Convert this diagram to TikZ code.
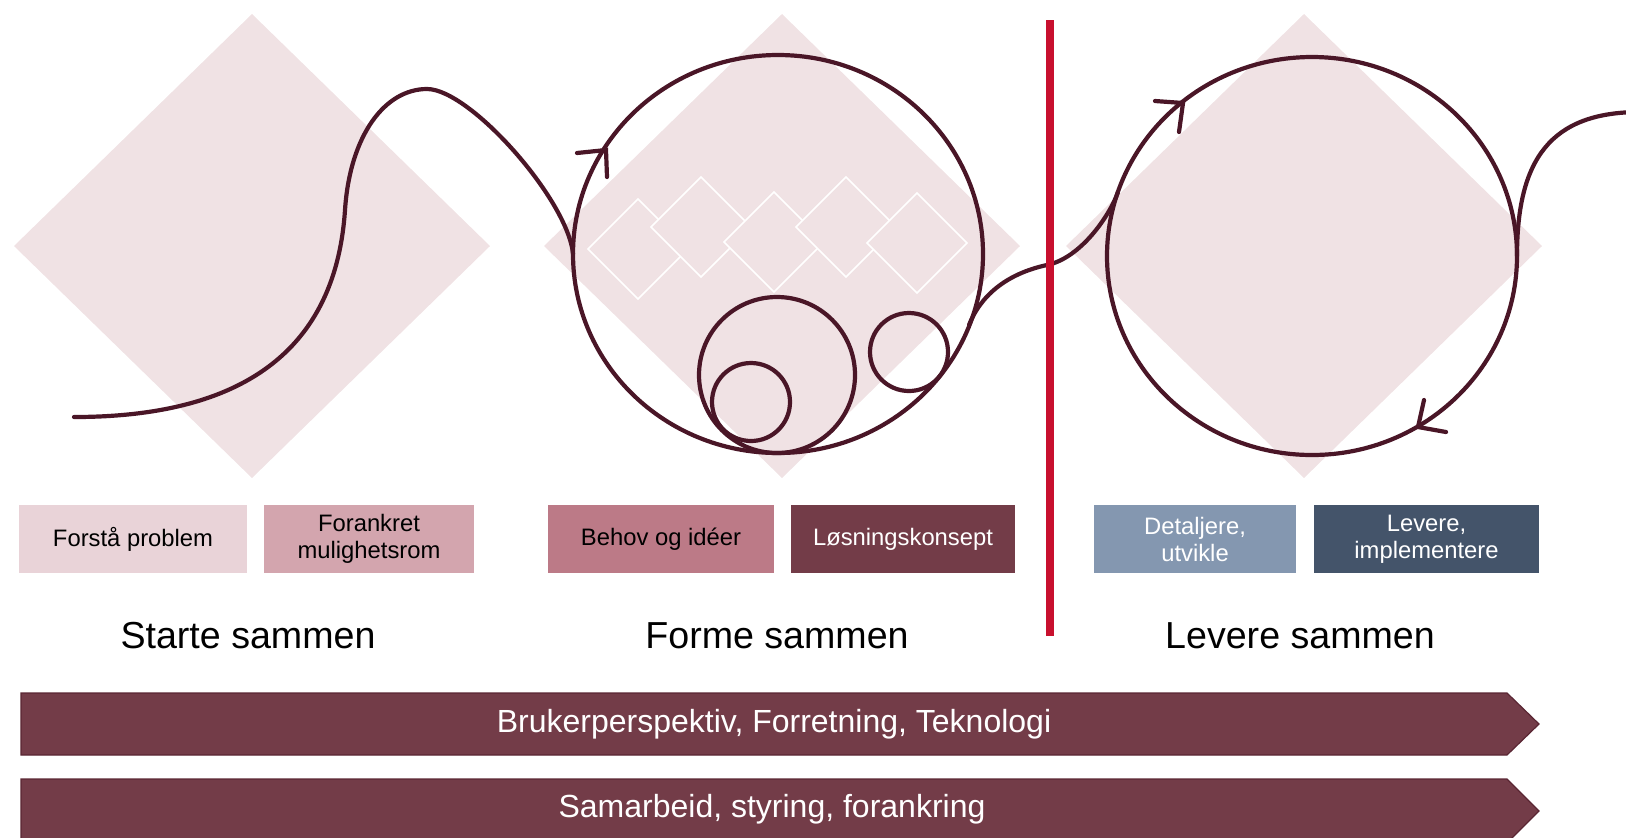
\documentclass[tikz,border=0pt]{standalone}
\usepackage{fontspec}
\setmainfont{Liberation Sans}
\definecolor{dpink}{HTML}{F0E2E4}
\definecolor{curvecol}{HTML}{4A1627}
\definecolor{redl}{HTML}{C8102E}
\definecolor{bxa}{HTML}{E9D3D8}
\definecolor{bxb}{HTML}{D3A5AE}
\definecolor{bxc}{HTML}{BC7A87}
\definecolor{bxd}{HTML}{733C48}
\definecolor{bxe}{HTML}{8497B0}
\definecolor{bxf}{HTML}{44546A}
\definecolor{arrcol}{HTML}{733C48}
\definecolor{arrline}{HTML}{5A2633}
\tikzset{
  bigdiam/.style={fill=dpink, draw=none},
  smalldiam/.style={fill=dpink, draw=white, line width=0.8pt},
  flow/.style={draw=curvecol, line width=2.1pt, line cap=round, line join=round},
  barb/.style={draw=curvecol, line width=2.1pt, line cap=round, line join=miter},
  stagebox/.style={minimum height=34pt, inner sep=0pt, align=center,
    font=\fontsize{11.9pt}{13.5pt}\selectfont},
  heading/.style={font=\fontsize{18.8pt}{22pt}\selectfont, anchor=base},
  band/.style={fill=arrcol, draw=arrline, line width=0.6pt},
  bandtext/.style={text=white, font=\fontsize{16pt}{19pt}\selectfont},
}
\begin{document}
\begin{tikzpicture}[x=0.5pt,y=-0.5pt]
\useasboundingbox (0,0) rectangle (1626,837);
\clip (0,0) rectangle (1626,837);
% big pink diamonds
\path[bigdiam] (14,246) -- (252,14) -- (490,246) -- (252,478) -- cycle;
\path[bigdiam] (544,246) -- (782,14) -- (1020,246) -- (782,478) -- cycle;
\path[bigdiam] (1066,246) -- (1304,14) -- (1542,246) -- (1304,478) -- cycle;
% small white-outlined diamonds
\foreach \cx/\cy in {638/249, 701/227, 774/242, 846/227, 917/243}
  \draw[smalldiam] (\cx-50,\cy) -- (\cx,\cy-50) -- (\cx+50,\cy) -- (\cx,\cy+50) -- cycle;
% incoming curve
\coordinate (s1) at (74,417);
\coordinate (m1) at (345,210);
\coordinate (pk) at (427,89);
\coordinate (c2l) at (573,254);
\draw[flow] (s1) .. controls (230,417) and (335,360) .. (m1)
  .. controls (350,135) and (385,89) .. (pk)
  .. controls (470,89) and (568,200) .. (c2l);
% main loop 2
\draw[flow] (778,254) ellipse [x radius=205, y radius=199];
\draw[flow] (777,375) circle [radius=78];
\draw[flow] (751,402) circle [radius=39];
\draw[flow] (909,352) circle [radius=39];
\draw[barb] (577,153) -- (606,150) -- (607,177);
% link between loops
\coordinate (ex2) at (969,325);
\coordinate (mid) at (1047,265);
\coordinate (en3) at (1118,192);
\draw[flow] (ex2) .. controls (980,297) and (1005,274) .. (mid)
  .. controls (1081,258) and (1110,215) .. (en3);
% loop 3
\draw[flow] (1312,256) ellipse [x radius=205, y radius=199];
\draw[barb] (1155,101) -- (1183,103) -- (1179,132);
\draw[barb] (1424,400) -- (1418,427) -- (1446,432);
\coordinate (ex3) at (1517,256);
\coordinate (out) at (1640,112);
\draw[flow] (ex3) .. controls (1517,160) and (1550,112) .. (out);
% red divider
\coordinate (rtop) at (1050,20);
\coordinate (rbot) at (1050,636);
\draw[redl, line width=3.6pt] (rtop) -- (rbot);
% stage boxes
\node[stagebox, fill=bxa, minimum width=114pt] (fp) at (133,539) {Forstå problem};
\node[stagebox, fill=bxb, minimum width=105pt] (fm) at (369,539) {Forankret\\mulighetsrom};
\node[stagebox, fill=bxc, minimum width=113pt] (bi) at (661,539) {Behov og idéer};
\node[stagebox, fill=bxd, minimum width=112pt, text=white] (lk) at (903,539) {Løsningskonsept};
\node[stagebox, fill=bxe, minimum width=101pt, text=white] (du) at (1195,539) {Detaljere,\\utvikle};
\node[stagebox, fill=bxf, minimum width=112.5pt, text=white] (li) at (1426.5,539) {Levere,\\implementere};
% headings
\node[heading] (h1) at (248,648) {Starte sammen};
\node[heading] (h2) at (777,648) {Forme sammen};
\node[heading] (h3) at (1300,648) {Levere sammen};
% bands
\path[band] (21,693) -- (1507,693) -- (1539,724) -- (1507,755) -- (21,755) -- cycle;
\node[bandtext] (t1) at (774,724) {Brukerperspektiv, Forretning, Teknologi};
\path[band] (21,779) -- (1507,779) -- (1539,811) -- (1507,843) -- (21,843) -- cycle;
\node[bandtext] (t2) at (772,809) {Samarbeid, styring, forankring};
\end{tikzpicture}
\end{document}
